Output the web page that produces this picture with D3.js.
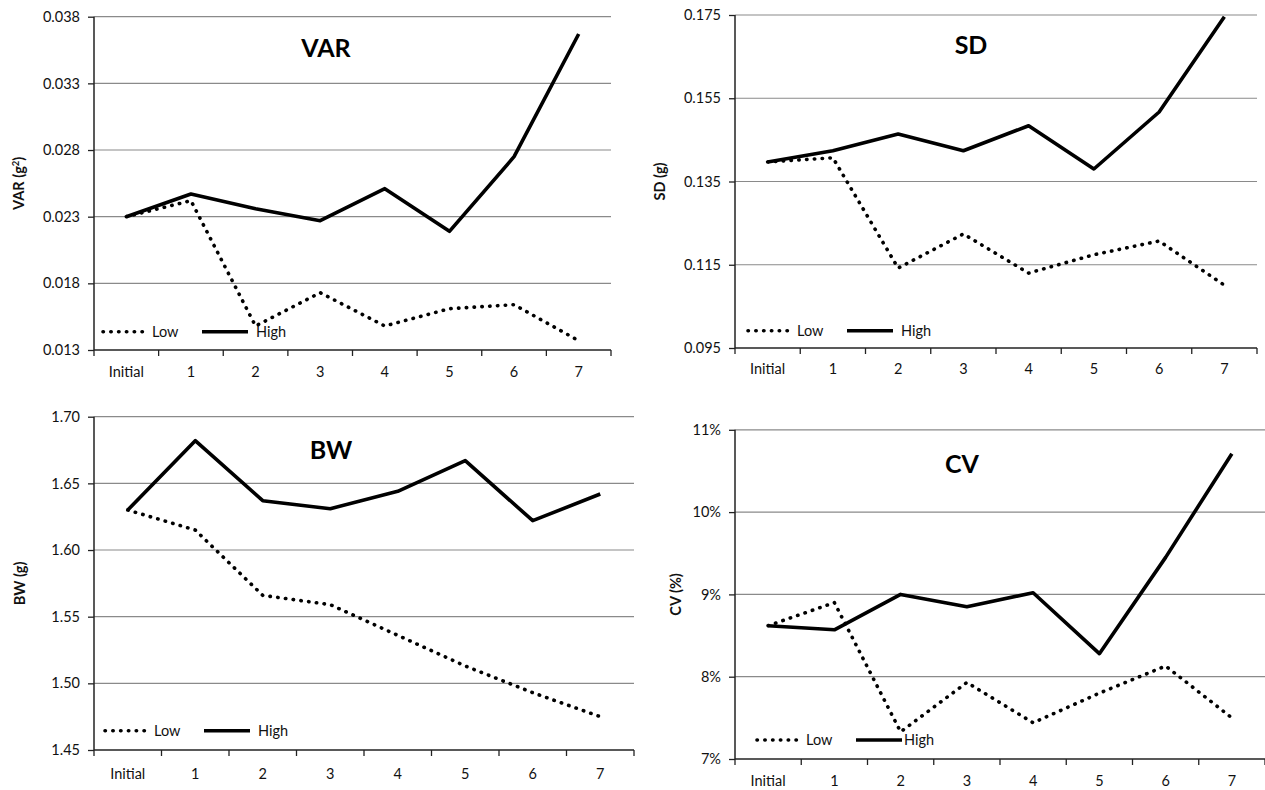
<!DOCTYPE html>
<html>
<head>
<meta charset="utf-8">
<script src="https://cdn.jsdelivr.net/npm/d3@7"></script>
<style>
  html, body { margin: 0; padding: 0; background: #fff; }
  svg { display: block; font-family: Lato, "Open Sans", sans-serif; }
</style>
</head>
<body>
<svg id="chart" width="1265" height="790"></svg>
<script>
// ---- data ----
const categories = ["Initial", "1", "2", "3", "4", "5", "6", "7"];

const varLow  = [0.0230, 0.0242, 0.0148, 0.0173, 0.0148, 0.0161, 0.0164, 0.0137];
const varHigh = [0.0230, 0.0247, 0.0236, 0.0227, 0.0251, 0.0219, 0.0275, 0.0367];
const varTicks = [0.013, 0.018, 0.023, 0.028, 0.033, 0.038];

const sdLow  = [0.1397, 0.1407, 0.1142, 0.1224, 0.1130, 0.1174, 0.1207, 0.1101];
const sdHigh = [0.1397, 0.1424, 0.1464, 0.1424, 0.1484, 0.1380, 0.1517, 0.1746];
const sdTicks = [0.095, 0.115, 0.135, 0.155, 0.175];

const bwLow  = [1.630, 1.615, 1.566, 1.559, 1.536, 1.513, 1.493, 1.475];
const bwHigh = [1.630, 1.682, 1.637, 1.631, 1.644, 1.667, 1.622, 1.642];
const bwTicks = [1.45, 1.50, 1.55, 1.60, 1.65, 1.70];

const cvLow  = [8.62, 8.90, 7.33, 7.93, 7.44, 7.80, 8.13, 7.50];
const cvHigh = [8.62, 8.57, 9.00, 8.85, 9.02, 8.28, 9.45, 10.71];
const cvTicks = [7, 8, 9, 10, 11];

const seriesNames = ["Low", "High"];

// ---- layout ----
const panels = [
  { title: "VAR", ylab: ["VAR (g", "2", ")"], low: varLow, high: varHigh, ticks: varTicks, fmt: d3.format(".3f"),
    left: 94, right: 611, top: 16.7, bottom: 350, titleX: 326, titleY: 57, ylabX: 19, xlabY: 377,
    legY: 331.7, legX: 103 },
  { title: "SD", ylab: ["SD (g)"], low: sdLow, high: sdHigh, ticks: sdTicks, fmt: d3.format(".3f"),
    left: 735, right: 1257, top: 15, bottom: 348, titleX: 971, titleY: 54, ylabX: 660, xlabY: 374,
    legY: 330.7, legX: 748 },
  { title: "BW", ylab: ["BW (g)"], low: bwLow, high: bwHigh, ticks: bwTicks, fmt: d3.format(".2f"),
    left: 94, right: 634, top: 416.7, bottom: 750, titleX: 331, titleY: 459, ylabX: 20, xlabY: 779,
    legY: 730.7, legX: 105 },
  { title: "CV", ylab: ["CV (%)"], low: cvLow, high: cvHigh, ticks: cvTicks, fmt: d => d + "%",
    left: 735, right: 1265, top: 429.8, bottom: 759, titleX: 962, titleY: 473, ylabX: 676, xlabY: 786,
    legY: 740, legX: 757, highGap: 2 }
];

const svg = d3.select("#chart");
const gridColor = "#8a8a8a";
const fs = 14.5;

panels.forEach(p => {
  const g = svg.append("g");
  const x = d3.scaleBand().domain(categories).range([p.left, p.right]);
  const xc = c => x(c) + x.bandwidth() / 2;
  const y = d3.scaleLinear().domain([p.ticks[0], p.ticks[p.ticks.length - 1]]).range([p.bottom, p.top]);

  // gridlines
  g.append("g")
    .selectAll("line")
    .data(p.ticks.slice(1))
    .join("line")
    .attr("x1", p.left).attr("x2", p.right)
    .attr("y1", d => y(d)).attr("y2", d => y(d))
    .attr("stroke", gridColor).attr("stroke-width", 1.2);

  // y axis
  const ya = g.append("g")
    .attr("transform", `translate(${p.left},0)`)
    .call(d3.axisLeft(y).tickValues(p.ticks).tickFormat(p.fmt).tickSize(6).tickPadding(8));
  ya.select(".domain").attr("stroke", "#222").attr("stroke-width", 1.5).attr("d", `M0,${p.top}V${p.bottom}`);
  ya.selectAll(".tick line").attr("stroke", "#222").attr("stroke-width", 1.3);
  ya.selectAll(".tick text").attr("font-size", fs).attr("fill", "#111").attr("font-family", "Lato, sans-serif");

  // x axis
  const xa = g.append("g")
    .attr("transform", `translate(0,${p.bottom})`)
    .call(d3.axisBottom(x).tickSize(0).tickPadding(0));
  xa.select(".domain").attr("stroke", "#222").attr("stroke-width", 1.5).attr("d", `M${p.left},0H${p.right}`);
  xa.selectAll(".tick text")
    .attr("font-size", fs).attr("fill", "#111").attr("font-family", "Lato, sans-serif")
    .attr("dy", null).attr("y", p.xlabY - p.bottom);
  const bounds = categories.map(c => x(c)).concat([p.right]);
  g.append("g").selectAll("line").data(bounds).join("line")
    .attr("x1", d => d).attr("x2", d => d)
    .attr("y1", p.bottom).attr("y2", p.bottom + 6)
    .attr("stroke", "#222").attr("stroke-width", 1.3);

  // lines
  const line = d3.line().x((d, i) => xc(categories[i])).y(d => y(d));
  g.append("path").datum(p.low).attr("d", line)
    .attr("fill", "none").attr("stroke", "#000").attr("stroke-width", 3.6)
    .attr("stroke-linecap", "round").attr("stroke-dasharray", "0.4 7.4");
  g.append("path").datum(p.high).attr("d", line)
    .attr("fill", "none").attr("stroke", "#000").attr("stroke-width", 3.6)
    .attr("stroke-linejoin", "round");

  // title
  g.append("text").attr("x", p.titleX).attr("y", p.titleY)
    .attr("text-anchor", "middle").attr("font-size", 25).attr("font-weight", 700)
    .attr("fill", "#000").text(p.title);

  // y label
  const cy = (p.top + p.bottom) / 2;
  const yl = g.append("text")
    .attr("transform", `translate(${p.ylabX},${cy}) rotate(-90)`)
    .attr("text-anchor", "middle").attr("dy", "0.35em")
    .attr("font-size", 14.5).attr("font-weight", 700).attr("fill", "#111");
  yl.append("tspan").text(p.ylab[0]);
  if (p.ylab.length > 1) {
    yl.append("tspan").attr("font-size", 9.5).attr("baseline-shift", "super").text(p.ylab[1]);
    yl.append("tspan").text(p.ylab[2]);
  }

  // legend
  const lg = g.append("g");
  lg.append("line").attr("x1", p.legX).attr("x2", p.legX + 42).attr("y1", p.legY).attr("y2", p.legY)
    .attr("stroke", "#000").attr("stroke-width", 3.6).attr("stroke-linecap", "round").attr("stroke-dasharray", "0.4 7.4");
  lg.append("text").attr("x", p.legX + 49).attr("y", p.legY).attr("dy", "0.35em")
    .attr("font-size", fs).attr("fill", "#111").text(seriesNames[0]);
  const hx = p.legX + 99;
  lg.append("line").attr("x1", hx).attr("x2", hx + 46).attr("y1", p.legY).attr("y2", p.legY)
    .attr("stroke", "#000").attr("stroke-width", 3.6);
  lg.append("text").attr("x", hx + (p.highGap !== undefined ? 46 + p.highGap : 54)).attr("y", p.legY).attr("dy", "0.35em")
    .attr("font-size", fs).attr("fill", "#111").text(seriesNames[1]);
});
</script>
</body>
</html>
